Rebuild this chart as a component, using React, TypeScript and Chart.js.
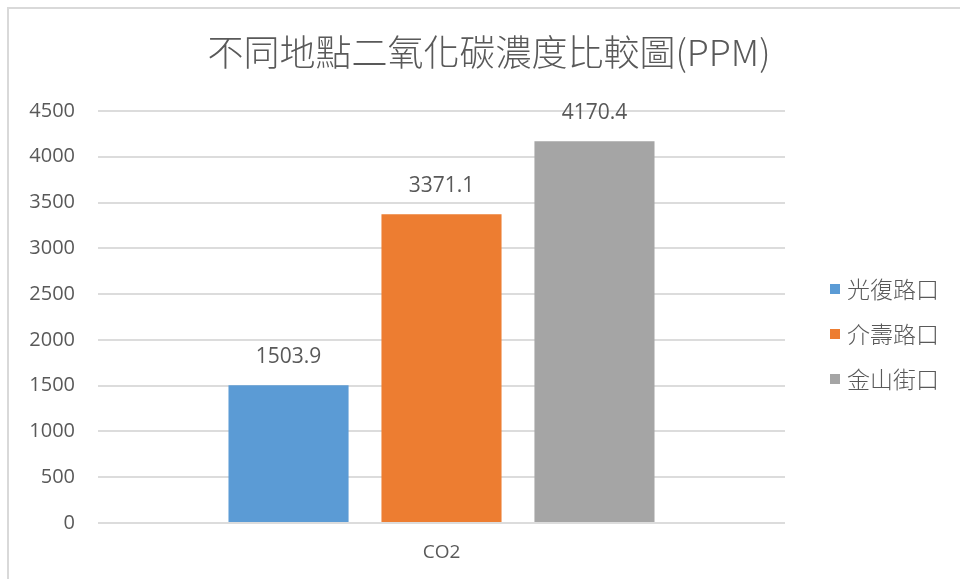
import React, { useEffect, useRef } from "react";
import { Chart, registerables } from "chart.js";

Chart.register(...registerables);

const categories = ["CO2"];
const seriesNames = ["光復路口", "介壽路口", "金山街口"];
const seriesValues = [[1503.9], [3371.1], [4170.4]];
const seriesColors = ["#5B9BD5", "#ED7D31", "#A5A5A5"];
const yTicks = [0, 500, 1000, 1500, 2000, 2500, 3000, 3500, 4000, 4500];
const titleText = "不同地點二氧化碳濃度比較圖(PPM)";

const TEXT = "#595959";
const NUM_FONT = "'Open Sans', 'Noto Sans CJK TC', sans-serif";
const CJK_FONT = "'Noto Sans CJK TC', 'Noto Sans', sans-serif";

const decorPlugin = {
  id: "decor",
  afterDraw(chart: any) {
    const ctx = chart.ctx as CanvasRenderingContext2D;
    ctx.save();
    // frame edges
    ctx.strokeStyle = "#d9d9d9";
    ctx.lineWidth = 2;
    ctx.beginPath();
    ctx.moveTo(8, 579);
    ctx.lineTo(8, 8);
    ctx.lineTo(960, 8);
    ctx.stroke();

    // title
    ctx.fillStyle = TEXT;
    ctx.font = `300 36px ${CJK_FONT}`;
    ctx.textAlign = "center";
    ctx.textBaseline = "middle";
    ctx.fillText(titleText, 489, 52);

    // value labels above bars
    ctx.font = `21px ${NUM_FONT}`;
    ctx.textBaseline = "middle";
    chart.data.datasets.forEach((ds: any, i: number) => {
      const meta = chart.getDatasetMeta(i);
      meta.data.forEach((bar: any, j: number) => {
        ctx.fillText(String(ds.data[j]), bar.x, bar.y - 28);
      });
    });

    // legend
    ctx.textAlign = "left";
    ctx.font = `300 23px ${CJK_FONT}`;
    chart.data.datasets.forEach((ds: any, i: number) => {
      const cy = 289 + i * 45;
      ctx.fillStyle = ds.backgroundColor;
      ctx.fillRect(830, cy - 5, 10, 10);
      ctx.fillStyle = TEXT;
      ctx.fillText(ds.label, 847, cy);
    });
    ctx.restore();
  },
};

export default function App() {
  const ref = useRef<HTMLCanvasElement | null>(null);

  useEffect(() => {
    if (!ref.current) return;
    const chart = new Chart(ref.current, {
      type: "bar",
      data: {
        labels: categories,
        datasets: seriesNames.map((name, i) => ({
          label: name,
          data: seriesValues[i],
          backgroundColor: seriesColors[i],
          categoryPercentage: 0.668,
          barPercentage: 0.785,
        })),
      },
      options: {
        animation: false,
        responsive: false,
        layout: { padding: { top: 111, right: 175, left: 0, bottom: 0 } },
        plugins: {
          legend: { display: false },
          title: { display: false },
          tooltip: { enabled: false },
        },
        scales: {
          x: {
            grid: { display: false, drawTicks: false },
            border: { display: false },
            ticks: { color: TEXT, font: { size: 19, family: NUM_FONT }, padding: 18 },
            afterFit: (s: any) => {
              s.height = 56;
            },
          },
          y: {
            min: 0,
            max: 4500,
            afterBuildTicks: (s: any) => {
              s.ticks = yTicks.map((v) => ({ value: v }));
            },
            grid: { color: "#dcdcdc", lineWidth: 2, drawTicks: false },
            border: { display: false },
            ticks: {
              color: TEXT,
              font: { size: 20, family: NUM_FONT },
              padding: 23,
              callback: (v: any) => String(v),
            },
            afterFit: (s: any) => {
              s.width = 98;
            },
          },
        },
      },
      plugins: [decorPlugin],
    });
    return () => chart.destroy();
  }, []);

  return (
    <div style={{ position: "fixed", left: 0, top: 0, width: 960, height: 579, background: "#fff" }}>
      <canvas ref={ref} width={960} height={579} style={{ display: "block" }} />
    </div>
  );
}
